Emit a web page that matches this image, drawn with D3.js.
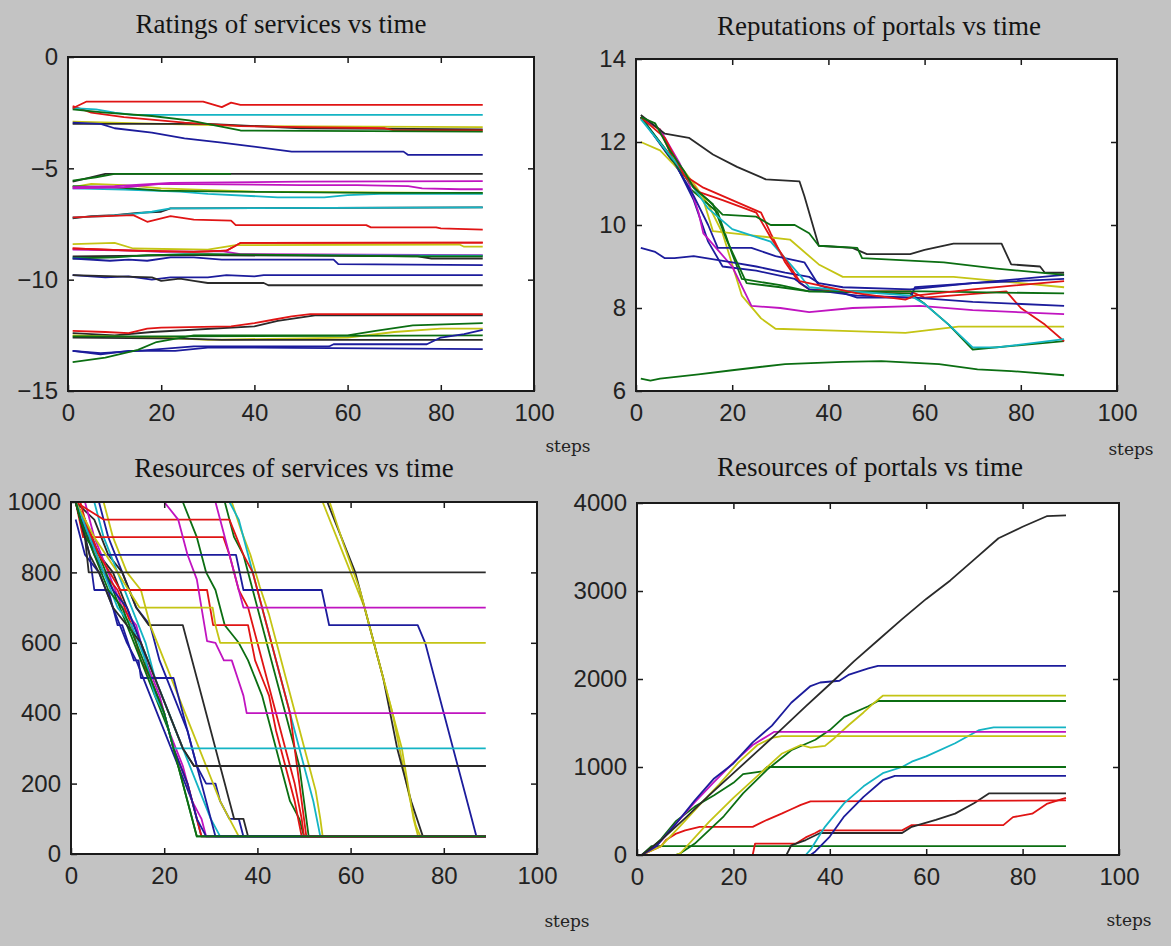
<!DOCTYPE html>
<html>
<head>
<meta charset="utf-8">
<script src="https://cdn.jsdelivr.net/npm/d3@7"></script>
<style>
  html, body { margin: 0; padding: 0; background: #c3c3c3; }
  svg { display: block; }
</style>
</head>
<body>
<div id="chart"></div>
<script>
// ---------- data ----------
const titles = ["Ratings of services vs time", "Reputations of portals vs time",
                "Resources of services vs time", "Resources of portals vs time"];
const xLabel = "steps";
const xTicks = [0, 20, 40, 60, 80, 100];
const ratingTicks = [0, -5, -10, -15];
const reputationTicks = [6, 8, 10, 12, 14];
const serviceResTicks = [0, 200, 400, 600, 800, 1000];
const portalResTicks = [0, 1000, 2000, 3000, 4000];

// ratings of services, [step, rating]
const ratingColors = ["y","k","r","c","g","r","r","b","k","g","y","c","g","m","m","k","c","r",
                      "m","y","r","c","k","g","b","b","k","k","r","y","k","g","b","b","g"];
const ratingSeries = [
  [[1,-2.9],[20,-3.0],[40,-3.1],[89,-3.15]],
  [[1,-3.0],[8,-3.0],[30,-3.0],[50,-3.2],[89,-3.25]],
  [[1,-2.2],[5,-2.5],[12,-2.7],[25,-2.95],[37,-3.1],[50,-3.15],[68,-3.2],[70,-3.3],[89,-3.3]],
  [[1,-2.3],[6,-2.35],[10,-2.5],[14,-2.6],[89,-2.6]],
  [[1,-2.35],[8,-2.5],[18,-2.65],[26,-2.85],[37,-3.3],[89,-3.35]],
  [[1,-2.3],[4,-2.0],[29,-2.0],[33,-2.25],[35,-2.05],[37,-2.15],[89,-2.15]],
  [[1,-8.6],[14,-8.7],[27,-8.75],[34,-8.7],[37,-8.35],[89,-8.34]],
  [[1,-2.95],[7,-3.0],[10,-3.2],[18,-3.4],[25,-3.65],[33,-3.85],[39,-4.0],[48,-4.25],[72,-4.25],[73,-4.4],[89,-4.4]],
  [[1,-5.6],[4,-5.45],[8,-5.25],[89,-5.25]],
  [[1,-5.55],[6,-5.4],[10,-5.25],[33,-5.25],[35,-5.25]],
  [[1,-5.85],[5,-5.7],[12,-5.75],[20,-5.9],[40,-6.05],[89,-6.12]],
  [[1,-5.9],[12,-5.95],[24,-6.05],[30,-6.15],[45,-6.3],[55,-6.3],[60,-6.2],[67,-6.15],[89,-6.15]],
  [[1,-5.8],[10,-5.85],[20,-6.0],[35,-6.05],[67,-6.1],[89,-6.1]],
  [[1,-5.85],[10,-5.8],[22,-5.65],[50,-5.6],[89,-5.57]],
  [[1,-5.9],[12,-5.85],[20,-5.7],[50,-5.75],[62,-5.75],[73,-5.8],[76,-5.9],[84,-5.94],[89,-5.94]],
  [[1,-7.25],[5,-7.15],[10,-7.1],[15,-7.0],[20,-6.95],[22,-6.8],[89,-6.75]],
  [[1,-7.2],[8,-7.15],[14,-7.05],[18,-6.95],[22,-6.8],[89,-6.75]],
  [[1,-7.2],[14,-7.1],[17,-7.4],[22,-7.15],[27,-7.3],[35,-7.35],[36,-7.55],[64,-7.55],[65,-7.65],[79,-7.65],[80,-7.7],[89,-7.75]],
  [[1,-8.65],[14,-8.7],[20,-8.75],[33,-8.72],[37,-8.85],[89,-8.9]],
  [[1,-8.4],[10,-8.35],[14,-8.6],[30,-8.65],[36,-8.45],[84,-8.42],[85,-8.52],[89,-8.52]],
  [[1,-8.6],[14,-8.7],[27,-8.75],[34,-8.7],[37,-8.35],[89,-8.34]],
  [[1,-9.0],[12,-8.95],[25,-8.85],[40,-8.9],[89,-8.92]],
  [[1,-8.95],[27,-8.9],[75,-8.95],[78,-9.05],[89,-9.05]],
  [[1,-9.05],[10,-9.0],[17,-8.9],[30,-8.85],[50,-8.9],[74,-8.95],[89,-8.95]],
  [[1,-9.05],[9,-9.15],[13,-9.1],[17,-9.15],[22,-9.0],[27,-9.0],[33,-9.1],[57,-9.1],[58,-9.3],[89,-9.35]],
  [[1,-9.8],[8,-9.9],[13,-9.85],[18,-10.0],[22,-9.9],[30,-9.9],[34,-9.8],[40,-9.85],[42,-9.8],[89,-9.8]],
  [[1,-9.8],[18,-9.9],[20,-10.05],[24,-9.95],[27,-10.05],[30,-10.15],[42,-10.15],[43,-10.25],[89,-10.25]],
  [[1,-12.4],[10,-12.5],[18,-12.35],[40,-12.1],[45,-11.85],[53,-11.6],[89,-11.6]],
  [[1,-12.3],[8,-12.35],[13,-12.4],[17,-12.2],[20,-12.15],[35,-12.1],[40,-11.95],[44,-11.8],[48,-11.65],[52,-11.55],[89,-11.55]],
  [[1,-12.5],[20,-12.6],[30,-12.7],[60,-12.6],[70,-12.35],[80,-12.2],[89,-12.2]],
  [[1,-12.6],[25,-12.65],[33,-12.7],[89,-12.7]],
  [[1,-12.55],[20,-12.55],[89,-12.5]],
  [[1,-13.2],[7,-13.3],[15,-13.2],[27,-13.0],[56,-13.0],[57,-12.9],[77,-12.9],[80,-12.6],[85,-12.45],[89,-12.25]],
  [[1,-13.2],[7,-13.35],[13,-13.2],[23,-13.2],[30,-13.05],[40,-13.05],[89,-13.12]],
  [[1,-13.7],[8,-13.5],[15,-13.15],[19,-12.8],[27,-12.5],[60,-12.5],[66,-12.3],[74,-12.05],[89,-11.95]]
];

// reputations of portals, [step, reputation]
const reputationColors = ["y","g","r","b","m","y","b","b","g","c","r","k","g","g"];
const reputationSeries = [
  [[1,12.55],[5,12.3],[8,11.6],[12,11.0],[15,10.5],[18,9.8],[22,8.3],[26,7.75],[29,7.5],[43,7.45],[56,7.4],[67,7.55],[89,7.55]],
  [[1,12.6],[7,11.7],[11,10.9],[17,10.3],[20,9.3],[22,8.7],[30,8.55],[36,8.4],[57,8.35],[60,8.1],[65,7.6],[70,7.0],[89,7.2]],
  [[1,12.6],[5,12.3],[8,11.5],[10,11.2],[14,10.9],[20,10.6],[26,10.3],[28,9.8],[31,9.1],[34,8.6],[36,8.45],[46,8.4],[57,8.4],[60,8.25],[77,8.4],[80,8.0],[85,7.6],[89,7.2]],
  [[1,12.6],[9,11.3],[12,10.6],[15,9.6],[18,9.0],[25,8.9],[33,8.7],[36,8.45],[46,8.3],[58,8.25],[70,8.15],[89,8.05]],
  [[1,12.6],[5,12.3],[9,11.5],[11,11.0],[13,10.3],[14,9.8],[17,9.4],[20,9.0],[24,8.05],[30,8.0],[36,7.9],[45,8.0],[59,8.05],[70,7.95],[89,7.85]],
  [[1,12.0],[5,11.8],[10,11.2],[14,10.6],[16,9.85],[24,9.75],[32,9.65],[38,9.05],[43,8.75],[66,8.75],[80,8.6],[89,8.5]],
  [[1,9.45],[4,9.35],[6,9.2],[8,9.2],[12,9.25],[20,9.1],[25,9.0],[31,8.85],[36,8.75],[38,8.6],[43,8.5],[57,8.45],[70,8.6],[80,8.7],[89,8.8]],
  [[1,12.6],[8,11.5],[12,10.7],[15,10.0],[17,9.45],[24,9.45],[29,9.25],[35,9.1],[38,8.55],[46,8.25],[57,8.25],[58,8.5],[70,8.6],[89,8.7]],
  [[1,12.6],[8,11.5],[12,10.9],[16,10.5],[19,9.6],[23,8.6],[30,8.5],[36,8.4],[60,8.4],[89,8.35]],
  [[1,12.55],[9,11.4],[15,10.4],[20,9.9],[28,9.6],[34,8.8],[36,8.5],[45,8.4],[57,8.3],[60,8.1],[65,7.6],[70,7.05],[75,7.05],[89,7.25]],
  [[1,12.6],[6,12.1],[10,11.2],[13,10.8],[18,10.6],[25,10.3],[28,9.7],[34,8.65],[46,8.35],[56,8.2],[58,8.3],[70,8.45],[89,8.65]],
  [[1,12.65],[6,12.2],[11,12.1],[16,11.7],[21,11.4],[27,11.1],[34,11.05],[35,10.7],[38,9.5],[45,9.45],[48,9.3],[57,9.3],[60,9.4],[66,9.55],[76,9.55],[78,9.05],[84,9.0],[85,8.85],[89,8.85]],
  [[1,12.6],[4,12.45],[7,11.8],[10,11.3],[12,10.9],[15,10.6],[18,10.25],[25,10.2],[28,10.0],[33,10.0],[36,9.8],[38,9.5],[46,9.45],[47,9.2],[64,9.1],[75,8.95],[84,8.85],[89,8.8]],
  [[1,6.3],[3,6.25],[5,6.3],[13,6.4],[20,6.5],[31,6.65],[43,6.7],[51,6.72],[63,6.65],[71,6.52],[78,6.48],[89,6.38]]
];

// resources of services, [step, resource]
const serviceResColors = ["y","k","y","y","c","g","g","b","k","k","y","c","b","m","r","b","b","g",
                          "r","r","r","b","m","m","y","k","c","k","c","g"];
const serviceResSeries = [
  [[1,1000],[54,1000],[57,900],[60,800],[63,700],[66,550],[69,400],[72,200],[74,80],[75,50],[89,50]],
  [[1,1000],[55,1000],[58,900],[61,800],[64,650],[67,500],[70,300],[73,150],[75.5,50],[89,50]],
  [[1,1000],[55.5,1000],[58.5,880],[62,750],[65,600],[68,450],[71,300],[73.5,100],[74.5,50],[89,50]],
  [[1,1000],[34.5,1000],[36.5,920],[38.5,850],[40.5,760],[42.5,680],[44.5,580],[46.5,480],[48.5,380],[50.5,280],[52.5,180],[53.5,100],[54,50],[89,50]],
  [[1,1000],[34,1000],[36,950],[38,850],[40,750],[42,650],[44,550],[46,450],[48,350],[50,250],[52,150],[53.5,50],[89,50]],
  [[1,1000],[33,1000],[35,900],[37,850],[39,750],[41,650],[43,550],[45,450],[47,350],[49,250],[50,150],[51,50],[89,50]],
  [[1,1000],[24,1000],[27,900],[29,800],[31,750],[33,650],[36,600],[38,550],[41,450],[43,350],[45,250],[47,150],[49,100],[50,50],[89,50]],
  [[1,1000],[6,1000],[8,900],[11,800],[14,700],[17,650],[19,550],[22,450],[25,350],[27,250],[29,200],[31,200],[32,150],[34,100],[36,100],[37,50],[89,50]],
  [[1,1000],[5,950],[8,850],[11,800],[14,700],[16.7,650],[24,650],[26,550],[28,450],[30,350],[32,250],[33,200],[34,150],[35,100],[37,100],[38,50],[89,50]],
  [[1,1000],[3,950],[6,850],[9,800],[12,700],[15,600],[18,500],[21,400],[24,300],[26.4,250],[89,250]],
  [[1,1000],[7,1000],[9,900],[12,800],[15,750],[17,650],[20,550],[23,450],[26,350],[29,250],[32,150],[34,100],[36,50],[89,50]],
  [[1,1000],[5,1000],[7,900],[10,800],[13,700],[16,600],[18,500],[21,400],[24,300],[27,200],[30,100],[32,50],[89,50]],
  [[1,950],[3,850],[6,800],[9,700],[12,600],[14,550],[17,450],[20,350],[23,250],[26,150],[27,100],[28,50],[89,50]],
  [[1,1000],[3,1000],[5,900],[8,800],[11,700],[14,650],[16,550],[19,450],[21,350],[24,250],[26,150],[28,100],[29,50],[89,50]],
  [[1,1000],[2,1000],[4,900],[7,800],[10,750],[13,650],[15,550],[17,500],[20,400],[22,300],[25,200],[27,100],[28,50],[89,50]],
  [[1,1000],[4,850],[5,750],[8,750],[10,650],[11,650],[13.5,550],[14.5,550],[15,500],[22,500],[24,400],[26,300],[28,200],[30,100],[31,50],[89,50]],
  [[1,1000],[4,900],[6.2,850],[35.4,850],[37,750],[53.8,750],[55.4,650],[74.4,650],[76,600],[78,500],[80,400],[82,300],[84,200],[86,100],[87,50],[89,50]],
  [[1,1000],[3,900],[6,850],[9,750],[12,650],[15,550],[18,450],[21,350],[23,250],[25,150],[26,100],[27,50],[89,50]],
  [[1,1000],[2.6,900],[32.7,900],[34,850],[36,750],[38,700],[40,600],[42,500],[44,400],[46,300],[48,200],[49.5,100],[50,50],[89,50]],
  [[1,1000],[7,950],[34,950],[35.5,900],[37,850],[39,800],[41,700],[43,600],[45,500],[47,400],[48,300],[49,200],[50,100],[50.5,50],[89,50]],
  [[1,1000],[3,950],[6,850],[10.6,750],[29.2,750],[30.5,650],[38,650],[39.5,550],[41,500],[42.5,450],[44,350],[46,250],[48,150],[49.5,50],[89,50]],
  [[1,1000],[3,920],[5,850],[7,800],[9,750],[12,700],[15,600],[17,500],[20,400],[22,300],[25,200],[27,100],[29,50],[89,50]],
  [[1,1000],[31,1000],[32,950],[34,850],[36,750],[37,700],[89,700]],
  [[1,1000],[20,1000],[23,950],[25,850],[27,780],[28,700],[29.2,605],[31,600],[32.8,550],[34.5,550],[36,490],[37,450],[37.7,400],[89,400]],
  [[1,1000],[5,900],[10,800],[14.7,700],[30.4,700],[31,650],[32,600],[89,600]],
  [[1,1000],[3,900],[3.8,800],[89,800]],
  [[1,1000],[4,900],[7,800],[10,700],[13,650],[16,550],[18,450],[20,400],[21,350],[22,300],[89,300]],
  [[1,1000],[2,950],[4,850],[6,800],[9,700],[12,650],[15,600],[18,500],[21,400],[24,300],[26.4,250],[89,250]],
  [[1,1000],[89,1000]],
  [[1,1000],[2,950],[5,850],[8,750],[11,700],[14,600],[17,500],[20,400],[22,300],[24,200],[25,150],[27,50],[89,50]]
];

// resources of portals, [step, resource]
const portalResColors = ["g","r","k","r","b","c","y","g","g","y","m","b","k"];
const portalResSeries = [
  [[1,0],[3,100],[89,100]],
  [[1,0],[24,0],[24.5,130],[33,130],[35,200],[37,250],[38,280],[55,280],[57,340],[76,340],[78,430],[82,470],[85,580],[89,650]],
  [[1,0],[31,0],[32,110],[35,170],[38,250],[55,250],[57,320],[62,400],[66,470],[70,590],[73,700],[89,700]],
  [[1,0],[5,100],[6,170],[8,240],[10,280],[13,320],[24,320],[27,400],[30,470],[32,520],[34,570],[36,610],[89,620]],
  [[1,0],[36,0],[37,40],[40,210],[43,440],[47,660],[51,850],[53.5,900],[89,900]],
  [[1,0],[35,0],[36,60],[39,320],[43,590],[47,780],[51,930],[55,1000],[57,1060],[60,1120],[66,1270],[71,1420],[74,1450],[89,1450]],
  [[1,0],[5,100],[9,330],[13,570],[17,800],[21,1050],[25,1250],[28,1330],[30,1350],[89,1350]],
  [[1,0],[3,80],[5,180],[8,380],[12,550],[16,680],[20,820],[22,920],[26,950],[27,1000],[89,1000]],
  [[1,0],[8,0],[9,20],[12,130],[18,440],[22,700],[27,970],[32,1190],[37,1310],[40,1420],[43,1570],[48,1690],[50,1750],[89,1750]],
  [[1,0],[8,0],[9,20],[15,380],[20,650],[25,900],[30,1150],[34,1250],[36,1220],[39,1240],[41,1330],[44,1480],[47,1620],[49,1720],[51,1810],[89,1810]],
  [[1,0],[4,100],[8,350],[12,600],[16,830],[20,1050],[24,1250],[27,1350],[28.5,1400],[89,1400]],
  [[1,0],[4,100],[8,350],[12,620],[16,870],[20,1040],[24,1280],[28,1470],[32,1730],[36,1920],[38,1960],[42,1980],[44,2050],[48,2120],[50,2150],[89,2150]],
  [[1,0],[5,170],[10,420],[15,680],[20,930],[25,1180],[30,1430],[35,1690],[40,1940],[45,2200],[50,2440],[55,2680],[60,2910],[65,3120],[70,3360],[75,3600],[80,3730],[85,3850],[89,3860]]
];

// ---------- layout and style ----------
const width = 1171, height = 946;
const palette = { b: "#1c1c9c", g: "#0b6e12", r: "#e01414", c: "#14b4c4",
                  m: "#c014c0", y: "#c4c414", k: "#2a2a2a" };

const panels = [
  { box: { left: 68, right: 534, top: 57, bottom: 391 }, domain: [-15, 0], yTicks: ratingTicks,
    series: ratingSeries, colors: ratingColors, title: titles[0], titleX: 281, titleY: 33, stepsX: 568, stepsY: 452 },
  { box: { left: 636, right: 1117, top: 59, bottom: 391 }, domain: [6, 14], yTicks: reputationTicks,
    series: reputationSeries, colors: reputationColors, title: titles[1], titleX: 879, titleY: 35, stepsX: 1131, stepsY: 455 },
  { box: { left: 71, right: 537, top: 502, bottom: 854 }, domain: [0, 1000], yTicks: serviceResTicks,
    series: serviceResSeries, colors: serviceResColors, title: titles[2], titleX: 294, titleY: 477, stepsX: 567, stepsY: 927 },
  { box: { left: 637, right: 1119, top: 503, bottom: 855 }, domain: [0, 4000], yTicks: portalResTicks,
    series: portalResSeries, colors: portalResColors, title: titles[3], titleX: 870, titleY: 476, stepsX: 1129, stepsY: 926 }
];

const svg = d3.select("#chart")
  .append("svg")
  .attr("width", width)
  .attr("height", height);

svg.append("rect")
  .attr("width", width)
  .attr("height", height)
  .attr("fill", "#c3c3c3");

panels.forEach((p) => {
  const b = p.box;
  const x = d3.scaleLinear().domain([0, 100]).range([b.left, b.right]);
  const y = d3.scaleLinear().domain(p.domain).range([b.bottom, b.top]);

  // plot area
  svg.append("rect")
    .attr("x", b.left).attr("y", b.top)
    .attr("width", b.right - b.left).attr("height", b.bottom - b.top)
    .attr("fill", "#ffffff");

  // lines
  const line = d3.line().x((d) => x(d[0])).y((d) => y(d[1]));
  svg.append("g")
    .selectAll("path")
    .data(p.series)
    .join("path")
    .attr("d", line)
    .attr("fill", "none")
    .attr("stroke", (d, i) => palette[p.colors[i]])
    .attr("stroke-width", 1.8)
    .attr("stroke-linejoin", "round");

  // axes, ticks pointing inward
  const tickStyle = (g) => {
    g.select(".domain").remove();
    g.selectAll(".tick line").attr("stroke", "#1a1a1a").attr("stroke-width", 1.5);
    g.selectAll(".tick text")
      .attr("fill", "#222")
      .style("font-family", "'Liberation Sans', Arial, sans-serif")
      .style("font-size", "24px");
  };

  svg.append("g")
    .attr("transform", `translate(0,${b.bottom})`)
    .call(d3.axisBottom(x).tickValues(xTicks).tickSize(-6).tickPadding(13).tickFormat(d3.format("d")))
    .call(tickStyle);
  svg.append("g")
    .attr("transform", `translate(0,${b.top})`)
    .call(d3.axisTop(x).tickValues(xTicks.slice(1, -1)).tickSize(-6).tickFormat(""))
    .call(tickStyle);
  svg.append("g")
    .attr("transform", `translate(${b.left},0)`)
    .call(d3.axisLeft(y).tickValues(p.yTicks).tickSize(-6).tickPadding(10).tickFormat(d3.format("d")))
    .call(tickStyle);
  svg.append("g")
    .attr("transform", `translate(${b.right},0)`)
    .call(d3.axisRight(y).tickValues(p.yTicks.filter((v) => v !== p.domain[0] && v !== p.domain[1])).tickSize(-6).tickFormat(""))
    .call(tickStyle);

  // frame
  svg.append("rect")
    .attr("x", b.left).attr("y", b.top)
    .attr("width", b.right - b.left).attr("height", b.bottom - b.top)
    .attr("fill", "none")
    .attr("stroke", "#1a1a1a")
    .attr("stroke-width", 2);

  // title
  svg.append("text")
    .attr("x", p.titleX).attr("y", p.titleY)
    .attr("text-anchor", "middle")
    .attr("fill", "#141414")
    .style("font-family", "'Liberation Serif', 'Times New Roman', serif")
    .style("font-size", "27px")
    .text(p.title);

  // x label
  svg.append("text")
    .attr("x", p.stepsX).attr("y", p.stepsY)
    .attr("text-anchor", "middle")
    .attr("fill", "#222")
    .style("font-family", "'DejaVu Serif', serif")
    .style("font-size", "17px")
    .text(xLabel);
});
</script>
</body>
</html>
